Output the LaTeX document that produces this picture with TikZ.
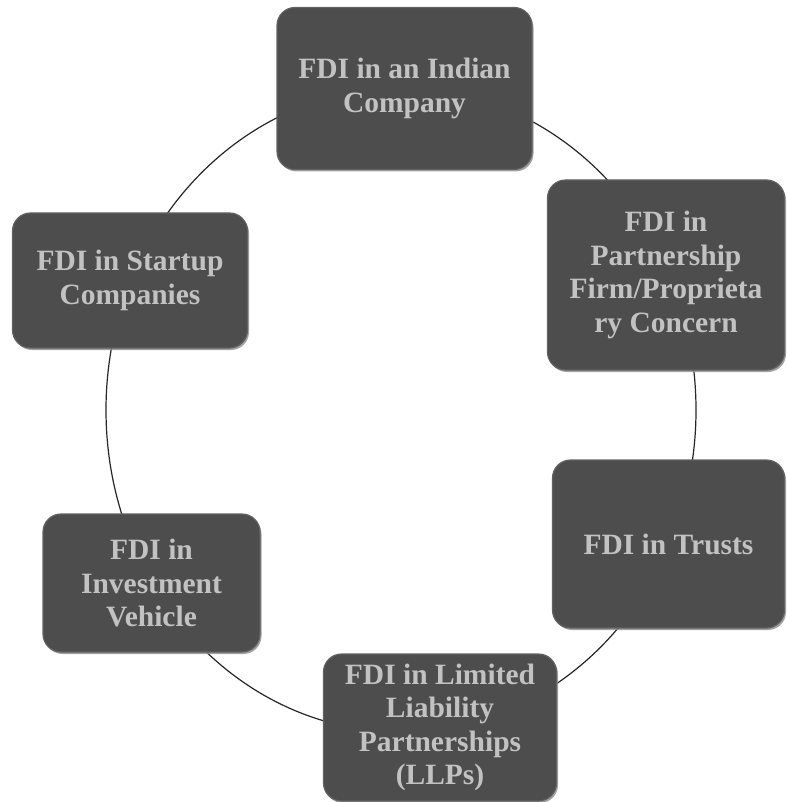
\documentclass[tikz,border=0pt]{standalone}
\usepackage{fontspec}
\setmainfont{Liberation Serif}
\usetikzlibrary{shadows}
\definecolor{boxfill}{HTML}{4D4D4D}
\definecolor{boxedge}{HTML}{626262}
\definecolor{boxtext}{HTML}{C2C2C2}
\definecolor{boxshadow}{HTML}{8C8C8C}
\tikzset{
  fdibox/.style={rectangle, rounded corners=18pt, fill=boxfill, draw=boxedge,
    line width=1.2pt, inner sep=0pt, align=center, text=boxtext,
    font=\bfseries\fontsize{29.5}{33.5}\selectfont,
    drop shadow={shadow xshift=1.5pt, shadow yshift=-2pt, fill=boxshadow, opacity=0.8}},
  cycleline/.style={draw=black!85, line width=1.2pt}
}
\begin{document}
\begin{tikzpicture}[x=1pt,y=-1pt]
\useasboundingbox (0,0) rectangle (786,802);
\draw[cycleline] (401,410) ellipse [x radius=295pt, y radius=322pt];
\node[fdibox, minimum width=255pt, minimum height=162pt] (n1) at (404.5,88.5) {FDI in an Indian\\Company};
\node[fdibox, minimum width=237pt, minimum height=190pt] (n2) at (666,275) {FDI in\\Partnership\\Firm/Proprieta\\ry Concern};
\node[fdibox, minimum width=232pt, minimum height=168pt] (n3) at (668.5,544) {FDI in Trusts};
\node[fdibox, minimum width=233pt, minimum height=147pt] (n4) at (440,727.5) {FDI in Limited\\Liability\\Partnerships\\(LLPs)};
\node[fdibox, minimum width=217pt, minimum height=138pt] (n5) at (151.5,583) {FDI in\\Investment\\Vehicle};
\node[fdibox, minimum width=235pt, minimum height=135pt] (n6) at (130,280.5) {FDI in Startup\\Companies};
\end{tikzpicture}
\end{document}
